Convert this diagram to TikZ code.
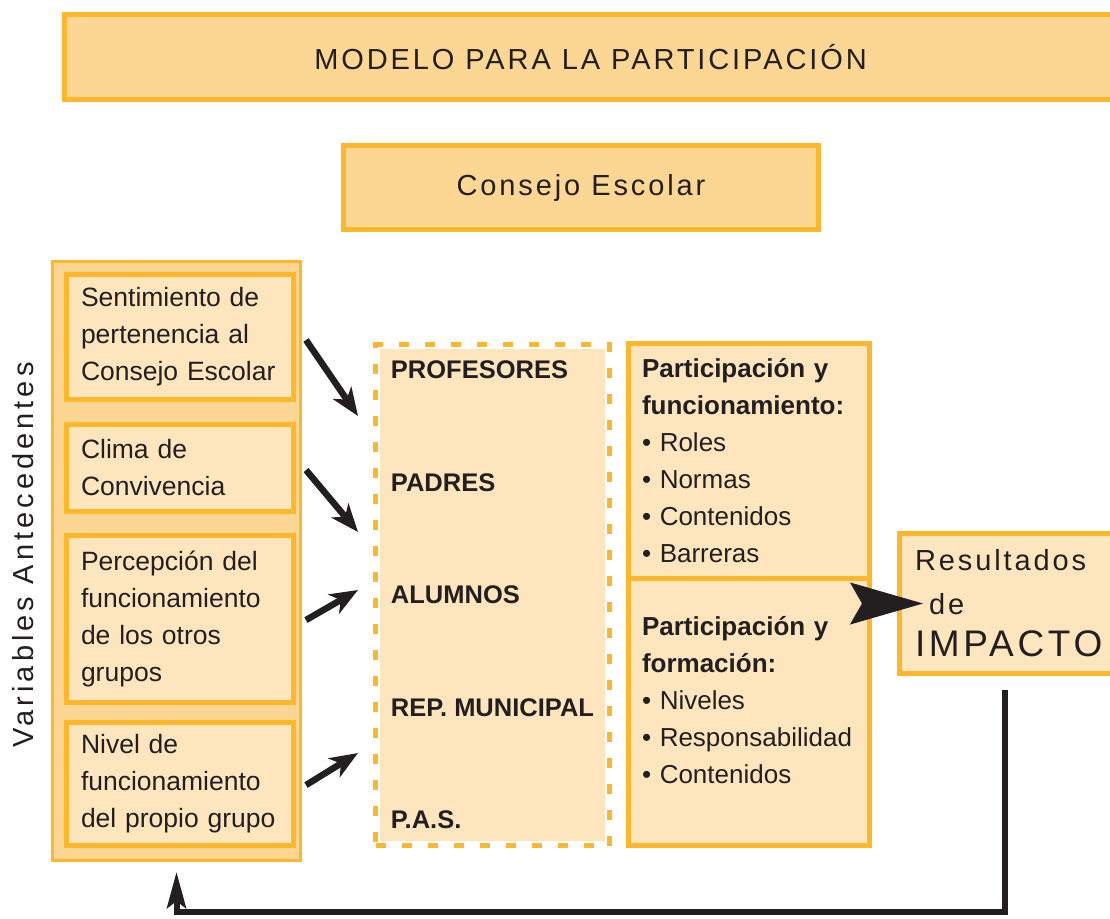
\documentclass[tikz,border=0pt]{standalone}
\usepackage{fontspec}
\setmainfont{Liberation Sans}
\newfontfamily\spaced[LetterSpace=10]{Liberation Sans}
\newfontfamily\spacedwide[LetterSpace=14]{Liberation Sans}
\usetikzlibrary{arrows.meta}
\definecolor{lineO}{RGB}{253,183,44}
\definecolor{fillA}{RGB}{252,215,147}
\definecolor{fillB}{RGB}{253,230,189}
\definecolor{ink}{RGB}{35,31,32}
\begin{document}
\begin{tikzpicture}[x=1pt,y=-1pt]
	\tikzstyle{caja} = [draw=lineO, fill=fillA, line width=5pt, rectangle, inner sep=0pt, text=ink]
	\tikzstyle{antec} = [draw=lineO, fill=fillB, line width=5pt, rectangle, text width=198pt, inner xsep=14.5pt, align=left, font={\fontsize{26.5}{37}\selectfont}, text=ink]
	\tikzstyle{parte} = [draw=lineO, fill=fillB, line width=5pt, rectangle, minimum width=241pt, text width=214pt, inner xsep=13.5pt, align=left, font={\fontsize{26}{37}\selectfont}, text=ink]
	\tikzstyle{grupo} = [fill=fillB, draw=white, line width=9pt, minimum width=234pt, minimum height=501pt, align=left, font={\bfseries\fontsize{25.5}{112.5}\selectfont}, text=ink, postaction={draw=lineO, line width=5pt, dash pattern=on 10pt off 16pt}]
	\tikzstyle{flecha} = [-{Stealth[length=28pt,width=22pt,inset=8pt]}, line width=6.5pt, draw=ink]
	\tikzstyle{retro} = [-{Stealth[length=36pt,width=19pt,inset=7pt]}, line width=6pt, draw=ink]
	\useasboundingbox (0,0) rectangle (1110,918);
	\node[caja, minimum width=1053pt, minimum height=85pt, font={\spaced\fontsize{29}{35}\selectfont}] (titulo) at (590.5,57) {MODELO PARA LA PARTICIPACIÓN};
	\node[caja, minimum width=475pt, minimum height=84pt, font={\spaced\fontsize{29}{35}\selectfont}] (consejo) at (581,187.5) {Consejo Escolar};
	% variables antecedentes
	\node[caja, line width=3pt, minimum width=248pt, minimum height=599pt] (antbox) at (176.5,561) {};
	\node[antec, minimum height=125pt] (ant1) at (180,337) {Sentimiento de\\pertenencia al\\Consejo Escolar};
	\node[antec, minimum height=87pt] (ant2) at (180,468) {Clima de\\Convivencia};
	\node[antec, minimum height=167pt] (ant3) at (180,619) {Percepción del\\funcionamiento\\de los otros\\grupos};
	\node[antec, minimum height=123pt] (ant4) at (180,784) {Nivel de\\funcionamiento\\del propio grupo};
	\node[rotate=90, text=ink, font={\spacedwide\fontsize{29}{34}\selectfont}] (vars) at (23,555) {Variables Antecedentes};
	% grupos y participacion
	\node[grupo] (grupos) at (492.5,595) {PROFESORES\\PADRES\\ALUMNOS\\REP. MUNICIPAL\\P.A.S.};
	\node[parte, minimum height=234.5pt] (part1) at (749,460.75) {\textbf{Participación y}\\\textbf{funcionamiento:}\\•~Roles\\•~Normas\\•~Contenidos\\•~Barreras};
	\node[parte, minimum height=267.5pt] (part2) at (749,711.75) {\textbf{Participación y}\\\textbf{formación:}\\•~Niveles\\•~Responsabilidad\\•~Contenidos\\[-13pt]\mbox{}};
	\node[caja, fill=fillB, minimum width=230pt, minimum height=140pt, text width=199pt, inner xsep=15.5pt, align=left, font={\spaced\fontsize{29}{44}\selectfont}] (res) at (1014.5,603.5) {Resultados\\\hspace*{14pt}de\\[-2pt]{\fontsize{37}{42}\selectfont IMPACTO}};
	% flechas
	\draw[flecha, shorten <=17.7pt, shorten >=23pt] (ant1.east |- 0,325.4) -- (grupos.west |- 0,435);
	\draw[flecha, shorten <=15.6pt, shorten >=20.2pt] (ant2.east |- 0,458.1) -- (grupos.west |- 0,547.5);
	\draw[flecha, shorten <=11.5pt, shorten >=15pt] (ant3.east |- 0,625.8) -- (grupos.west |- 0,582.5);
	\draw[flecha, shorten <=11.7pt, shorten >=15.3pt] (ant4.east |- 0,791.2) -- (grupos.west |- 0,745);
	\draw[-{Stealth[length=73pt,width=42pt,inset=12pt]}, draw=ink, fill=ink, line width=1pt] ([xshift=-8pt]part2.east |- res.west) -- ([xshift=26pt]res.west);
	\draw[retro] ([xshift=-9.5pt,yshift=-14pt]res.south) |- ([yshift=-50pt]antbox.south) -- ([yshift=-10pt]antbox.south);
\end{tikzpicture}
\end{document}
